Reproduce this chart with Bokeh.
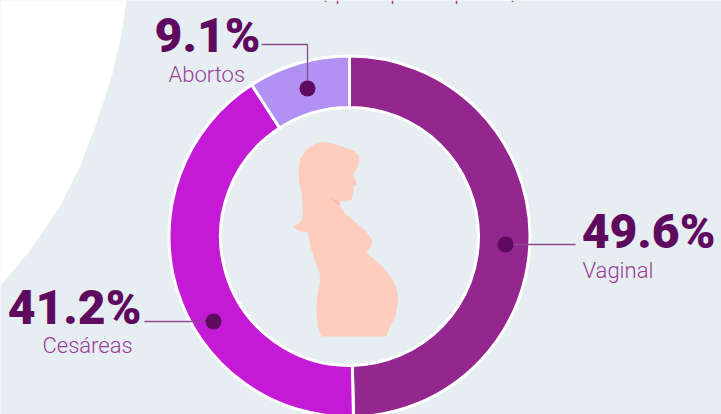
from math import pi
from bokeh.plotting import figure
from bokeh.models import Range1d
from bokeh.core.properties import value
from bokeh.embed import file_html
from bokeh.resources import INLINE

# data
categories = ["Vaginal", "Cesáreas", "Abortos"]
shares = [49.6, 41.2, 9.1]
share_labels = ["49.6%", "41.2%", "9.1%"]
slice_colors = ["#93268F", "#C41AD6", "#B191F3"]

# decoration outlines (pixel positions of the picture)
corner_x = [0, 126, 121, 112, 97, 80, 59, 27, 0]
corner_y = [0, 0, 33, 73, 120, 165, 207, 253, 285]
body = [(170,35),(200,42),(225,52),(250,60),(265,75),(267,95),(258,115),(248,133),(258,155),(258,163),
        (249,168),(250,180),(248,195),(243,207),(232,210),(207,212),(208,228),(225,250),(255,275),(285,302),
        (305,328),(302,345),(295,358),(287,367),(310,385),(340,412),(365,445),(380,480),(383,515),(375,555),
        (358,590),(347,618),(153,618),(142,590),(137,540),(140,500),(148,460),(148,430),(135,395),(120,350),
        (112,305),(95,305),(80,298),(68,289),(85,278),(95,265),(97,230),(93,190),(85,150),(84,115),
        (90,85),(105,60),(130,42),(150,36)]
neck = [(180,203),(207,212),(208,228),(190,215)]

BG, DARK, MID, SKIN = "#E7EEF2", "#5E0A5E", "#9A3C9A", "#FFCDBD"

p = figure(width=721, height=414, output_backend="svg", toolbar_location=None,
           x_range=Range1d(0, 721), y_range=Range1d(414, 0),
           min_border=0, outline_line_color=None,
           background_fill_color=BG, border_fill_color=BG)
p.axis.visible = False
p.grid.visible = False

p.patch(corner_x, corner_y, fill_color="white", line_color=None)

# donut
total = sum(shares)
start = pi / 2
for share, color in zip(shares, slice_colors):
    end = start - share / total * 2 * pi
    p.annular_wedge(x=349, y=236, inner_radius=129, outer_radius=180.5, start_angle=end, end_angle=start,
                    fill_color=color, line_color="white", line_width=3)
    start = end

# silhouette
to_x = lambda a: 270 + a / 3
to_y = lambda a: 130 + a / 3
p.patch([to_x(a) for a, _ in body], [to_y(b) for _, b in body], fill_color=SKIN, line_color=None)
p.patch([to_x(a) for a, _ in neck], [to_y(b) for _, b in neck], fill_color="#FFBCA8", line_color=None)

# leaders
LINE = "#8A4A8E"
p.line([505, 575], [244, 244], line_color=LINE, line_width=1.3)
p.line([144, 213], [321, 321], line_color=LINE, line_width=1.3)
p.line([261, 307, 307], [44, 44, 88], line_color=LINE, line_width=1.3)
p.scatter([505, 213, 307], [244, 321, 88], size=16, marker="circle", fill_color=DARK, line_color=None)

# labels
big_x = [648, 74, 207]
big_y = [231, 307, 35]
small_x = [582, 42, 168]
small_y = [270, 345, 74]
p.text(big_x, big_y, text=share_labels, text_font=value("Roboto Black"),
       text_font_size="48px", text_color=DARK, text_baseline="alphabetic", text_align="center")
p.text(small_x, small_y, text=categories, text_font=value("Roboto Light"), text_font_size="22px",
       text_color=MID, text_baseline="alphabetic", text_align="left")

# tails of the line of text that the picture cuts off at its top edge
p.segment([325, 337, 392, 456, 512], [0, 0, 0, 0, 0], [325, 337, 392, 456, 512], [1.5, 3.5, 3.5, 3.5, 1.5],
          line_color="#A83CA8", line_width=1.5)

open("out.html", "w").write(file_html(p, INLINE))
